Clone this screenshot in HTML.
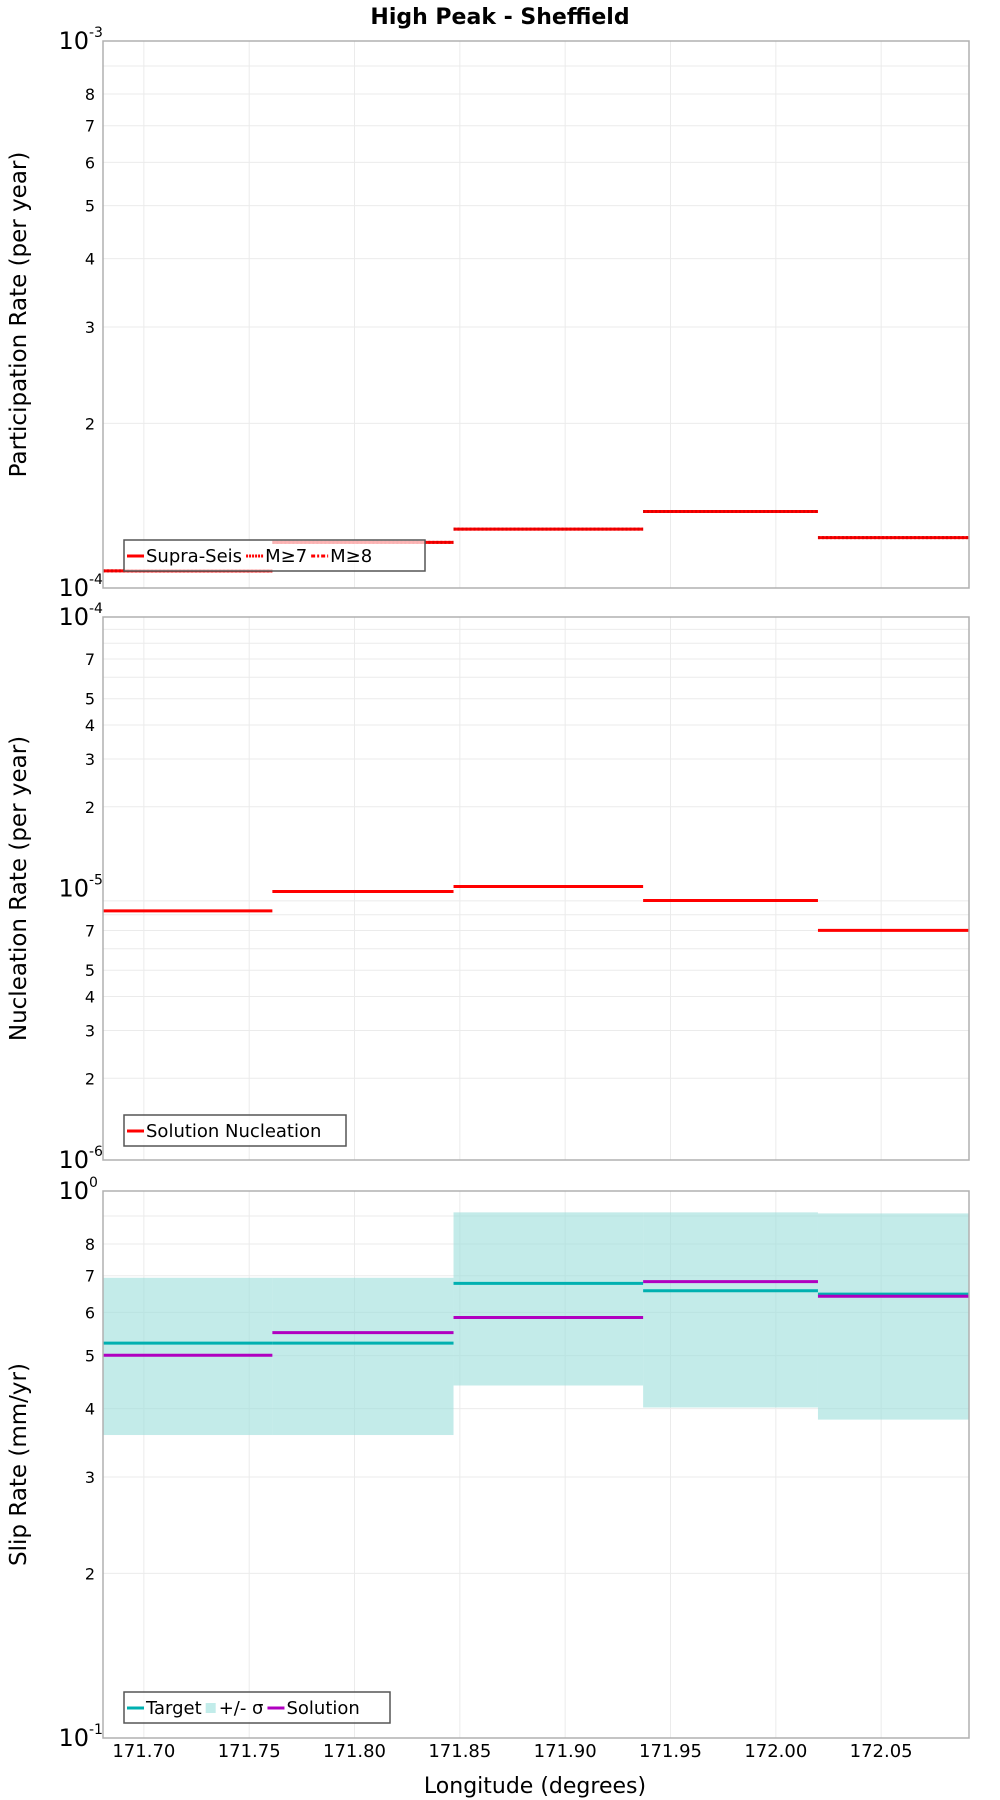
<!DOCTYPE html>
<html><head><meta charset="utf-8"><style>
html,body{margin:0;padding:0;background:#fff;}
svg{display:block;font-family:"DejaVu Sans","Liberation Sans",sans-serif;}
</style></head><body>
<svg id="chart" width="1000" height="1800" viewBox="0 0 1000 1800" xmlns="http://www.w3.org/2000/svg">
<text x="500" y="24" text-anchor="middle" font-size="22" font-weight="bold">High Peak - Sheffield</text>
<text x="535" y="1793" text-anchor="middle" font-size="22">Longitude (degrees)</text>
</svg>
<script>
const binEdges = [171.6806, 171.761, 171.847, 171.937, 172.020, 172.0917];
const xTicks = [171.70, 171.75, 171.80, 171.85, 171.90, 171.95, 172.00, 172.05];
const xTickLabels = ["171.70","171.75","171.80","171.85","171.90","171.95","172.00","172.05"];
const participation = [1.075e-4, 1.212e-4, 1.281e-4, 1.38e-4, 1.236e-4];
const nucleation = [8.27e-6, 9.75e-6, 1.017e-5, 9.03e-6, 7.01e-6];
const slipTarget = [0.527, 0.527, 0.678, 0.657, 0.648];
const slipSolution = [0.501, 0.551, 0.587, 0.683, 0.642];
const sigmaUpper = [0.694, 0.694, 0.914, 0.914, 0.910];
const sigmaLower = [0.358, 0.358, 0.441, 0.402, 0.382];

const NS = "http://www.w3.org/2000/svg";
const svg = document.getElementById('chart');
const X0 = 103, X1 = 969;
function xs(v){ return X0 + (v - binEdges[0]) / (binEdges[5] - binEdges[0]) * (X1 - X0); }
function mk(tag, attrs, parent){ const e = document.createElementNS(NS, tag); for (const k in attrs) e.setAttribute(k, attrs[k]); (parent||svg).appendChild(e); return e; }

const panels = [
  {top:41, bot:588, lo:-4, hi:-3, title:"Participation Rate (per year)", minorLabels:[2,3,4,5,6,7,8], name:"participation"},
  {top:617, bot:1160, lo:-6, hi:-4, title:"Nucleation Rate (per year)", minorLabels:[2,3,4,5,7], name:"nucleation"},
  {top:1191, bot:1738, lo:-1, hi:0, title:"Slip Rate (mm/yr)", minorLabels:[2,3,4,5,6,7,8], name:"slip"}
];
panels.forEach(p => {
  p.ys = v => p.bot - (Math.log10(v) - p.lo) / (p.hi - p.lo) * (p.bot - p.top);
  const g = mk('g', {});
  
  
  p.g = g;
  xTicks.forEach(t => {
    const l = mk('line', {x1:xs(t), x2:xs(t), y1:p.top, y2:p.bot, stroke:'#ebebeb', 'stroke-width':1}, g);
    
    
  });
  for (let d = p.lo; d < p.hi; d++) {
    for (let m = 2; m <= 9; m++) {
      const y = p.ys(m * Math.pow(10, d));
      const l = mk('line', {x1:X0, x2:X1, y1:y, y2:y, stroke:'#ebebeb', 'stroke-width':1}, g);
      
      
      if (p.minorLabels.includes(m)) {
        const t = mk('text', {x:X0 - 8, y:y + 6, 'text-anchor':'end', 'font-size':16}, g);
        
        
        t.textContent = m;
      }
    }
  }
  for (let d = p.lo; d <= p.hi; d++) {
    const y = p.ys(Math.pow(10, d));
    const t = mk('text', {x:X0 - 14, y:y + 8, 'text-anchor':'end', 'font-size':24}, g);
    
    
    t.textContent = '10';
    const s = mk('text', {x:X0 - 14, y:y - 4, 'font-size':14}, g);
    
    
    s.textContent = String(d);
  }
  const cy = (p.top + p.bot) / 2;
  const yt = mk('text', {x:0, y:0, 'text-anchor':'middle', 'font-size':23, transform:`translate(26,${cy}) rotate(-90)`}, g);
  
  
  yt.textContent = p.title;
});

function steps(p, arr, color, w, dash, name){
  arr.forEach((v, i) => {
    const y = p.ys(v);
    const l = mk('line', {x1:xs(binEdges[i]), x2:xs(binEdges[i+1]), y1:y, y2:y, stroke:color, 'stroke-width':w}, p.g);
    if (dash) l.setAttribute('stroke-dasharray', dash);
    
    
  });
}
steps(panels[0], participation, '#ff0000', 3, null, 'supra-seis-step');
steps(panels[0], participation, '#e00000', 3, '2,2', 'm7-step');
steps(panels[1], nucleation, '#ff0000', 3, null, 'nucleation-step');
const p3 = panels[2];
sigmaUpper.forEach((u, i) => {
  const yT = p3.ys(u), yB = p3.ys(sigmaLower[i]);
  const r = mk('rect', {x:xs(binEdges[i]), y:yT, width:xs(binEdges[i+1]) - xs(binEdges[i]), height:yB - yT, fill:'#9edfdc', 'fill-opacity':0.62}, p3.g);
  
  
});
steps(p3, slipTarget, '#00b0b0', 3, null, 'target-step');
steps(p3, slipSolution, '#b000c0', 3, null, 'solution-step');

panels.forEach(p => {
  const f = mk('rect', {x:X0, y:p.top, width:X1 - X0, height:p.bot - p.top, fill:'none', stroke:'#b0b0b0', 'stroke-width':1.5});
  
  
});
xTicks.forEach((t, i) => {
  const tx = mk('text', {x:xs(t), y:1757, 'text-anchor':'middle', 'font-size':18});
  
  
  tx.textContent = xTickLabels[i];
});

function legend(x, y, w, items, name){
  const g = mk('g', {});
  
  
  mk('rect', {x:x, y:y, width:w, height:31, fill:'#ffffff', 'fill-opacity':0.7, stroke:'#555', 'stroke-width':1.5}, g);
  let cx = x + 3;
  items.forEach(it => {
    const e = it.patch ? mk('rect', {x:cx, y:y + 11, width:10, height:10, fill:it.color}, g)
                       : mk('line', {x1:cx, x2:cx + 17, y1:y + 16, y2:y + 16, stroke:it.color, 'stroke-width':3}, g);
    if (it.dash) e.setAttribute('stroke-dasharray', it.dash);
    
    
    const t = mk('text', {x:cx + (it.patch ? 13 : 19), y:y + 22, 'font-size':18}, g);
    
    
    t.textContent = it.label;
    cx += (it.patch ? 13 : 19) + t.getComputedTextLength() + 4;
  });
}
legend(124, 540, 301, [{label:'Supra-Seis', color:'#ff0000'}, {label:'M≥7', color:'#ff0000', dash:'2,1'}, {label:'M≥8', color:'#ff0000', dash:'4,2,2,2'}], 'participation-legend');
legend(124, 1115, 222, [{label:'Solution Nucleation', color:'#ff0000'}], 'nucleation-legend');
legend(124, 1692, 266, [{label:'Target', color:'#00b0b0'}, {label:'+/- σ', color:'#c2ecea', patch:true}, {label:'Solution', color:'#b000c0'}], 'slip-legend');
</script>
</body></html>
